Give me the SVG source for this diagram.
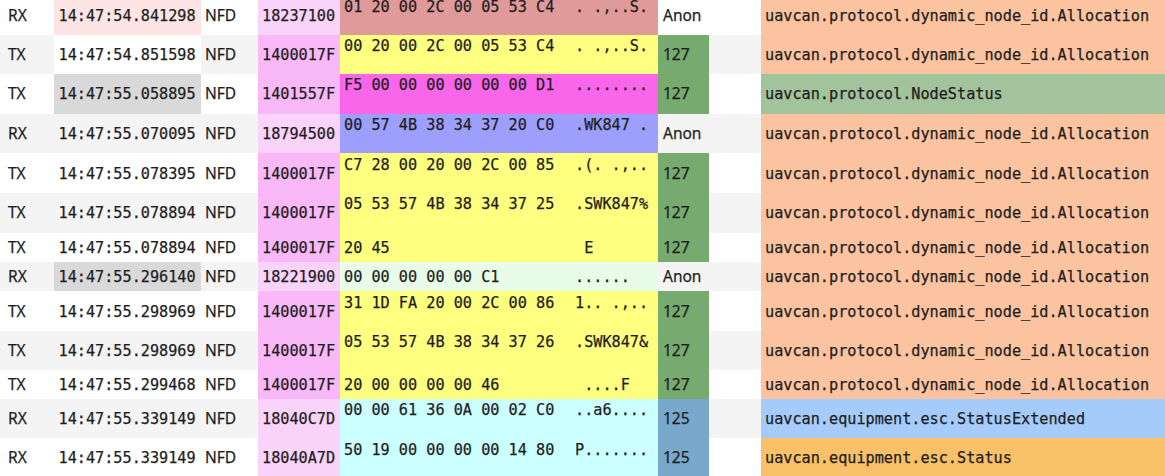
<svg xmlns="http://www.w3.org/2000/svg" width="1165" height="476" viewBox="0 0 1165 476">
<style>
.w{fill:#ffffff}.g{fill:#f4f4f4}
.tsr{fill:#fde5e5}.tsg{fill:#d9d9d9}
.idl{fill:#fad3fa}.idd{fill:#f9b9f9}
.dr{fill:#e19a9a}.dy{fill:#ffff80}.dm{fill:#f966ea}.dl{fill:#9e9efc}.dg{fill:#e8fce8}.dc{fill:#ccffff}
.sg{fill:#77aa6e}.sb{fill:#78a8cc}
.ta{fill:#fbc39f}.tn{fill:#a2c39b}.te{fill:#a4cbf9}.ts{fill:#f8c067}
text{fill:#1e1e1e;stroke:#1e1e1e;stroke-width:0.25px}
.m{font-family:"DejaVu Sans Mono","Liberation Mono",monospace;font-size:15.2px}
.s{font-family:"Noto Sans","Open Sans",sans-serif;font-size:15.5px}
</style>
<rect x="0" y="0" width="1165" height="476" fill="#ffffff"/>
<g id="row1">
<rect class="w" x="0" y="-4" width="1165" height="39"/>
<rect class="tsr" x="54" y="-4" width="147" height="39"/>
<rect class="idl" x="258" y="-4" width="82" height="39"/>
<rect class="dr" x="340" y="-4" width="318" height="39"/>
<rect class="ta" x="761" y="-4" width="404" height="39"/>
<text class="s" x="8" y="21">RX</text>
<text class="m" x="58.5" y="21">14:47:54.841298</text>
<text class="s" x="205" y="21">NFD</text>
<text class="m" x="262" y="21">18237100</text>
<text class="m" x="344" y="12">01 20 00 2C 00 05 53 C4</text>
<text class="m" x="575" y="12" xml:space="preserve">. .,..S.</text>
<text class="s" x="663" y="21">Anon</text>
<text class="m" x="765" y="21">uavcan.protocol.dynamic_node_id.Allocation</text>
</g>
<g id="row2">
<rect class="g" x="0" y="35" width="1165" height="39"/>
<rect class="w" x="54" y="35" width="147" height="39"/>
<rect class="idd" x="258" y="35" width="82" height="39"/>
<rect class="dy" x="340" y="35" width="318" height="39"/>
<rect class="sg" x="658" y="35" width="51" height="39"/>
<rect class="ta" x="761" y="35" width="404" height="39"/>
<text class="s" x="8" y="60">TX</text>
<text class="m" x="58.5" y="60">14:47:54.851598</text>
<text class="s" x="205" y="60">NFD</text>
<text class="m" x="262" y="60">1400017F</text>
<text class="m" x="344" y="51">00 20 00 2C 00 05 53 C4</text>
<text class="m" x="575" y="51" xml:space="preserve">. .,..S.</text>
<text class="s" x="663" y="60">127</text>
<text class="m" x="765" y="60">uavcan.protocol.dynamic_node_id.Allocation</text>
</g>
<g id="row3">
<rect class="w" x="0" y="74" width="1165" height="40"/>
<rect class="tsg" x="54" y="74" width="147" height="40"/>
<rect class="idd" x="258" y="74" width="82" height="40"/>
<rect class="dm" x="340" y="74" width="318" height="40"/>
<rect class="sg" x="658" y="74" width="51" height="40"/>
<rect class="tn" x="761" y="74" width="404" height="40"/>
<text class="s" x="8" y="99">TX</text>
<text class="m" x="58.5" y="99">14:47:55.058895</text>
<text class="s" x="205" y="99">NFD</text>
<text class="m" x="262" y="99">1401557F</text>
<text class="m" x="344" y="90">F5 00 00 00 00 00 00 D1</text>
<text class="m" x="575" y="90" xml:space="preserve">........</text>
<text class="s" x="663" y="99">127</text>
<text class="m" x="765" y="99">uavcan.protocol.NodeStatus</text>
</g>
<g id="row4">
<rect class="g" x="0" y="114" width="1165" height="39"/>
<rect class="idl" x="258" y="114" width="82" height="39"/>
<rect class="dl" x="340" y="114" width="318" height="39"/>
<rect class="ta" x="761" y="114" width="404" height="39"/>
<text class="s" x="8" y="139">RX</text>
<text class="m" x="58.5" y="139">14:47:55.070095</text>
<text class="s" x="205" y="139">NFD</text>
<text class="m" x="262" y="139">18794500</text>
<text class="m" x="344" y="130">00 57 4B 38 34 37 20 C0</text>
<text class="m" x="575" y="130" xml:space="preserve">.WK847 .</text>
<text class="s" x="663" y="139">Anon</text>
<text class="m" x="765" y="139">uavcan.protocol.dynamic_node_id.Allocation</text>
</g>
<g id="row5">
<rect class="w" x="0" y="153" width="1165" height="40"/>
<rect class="idd" x="258" y="153" width="82" height="40"/>
<rect class="dy" x="340" y="153" width="318" height="40"/>
<rect class="sg" x="658" y="153" width="51" height="40"/>
<rect class="ta" x="761" y="153" width="404" height="40"/>
<text class="s" x="8" y="179">TX</text>
<text class="m" x="58.5" y="179">14:47:55.078395</text>
<text class="s" x="205" y="179">NFD</text>
<text class="m" x="262" y="179">1400017F</text>
<text class="m" x="344" y="170">C7 28 00 20 00 2C 00 85</text>
<text class="m" x="575" y="170" xml:space="preserve">.(. .,..</text>
<text class="s" x="663" y="179">127</text>
<text class="m" x="765" y="179">uavcan.protocol.dynamic_node_id.Allocation</text>
</g>
<g id="row6">
<rect class="g" x="0" y="193" width="1165" height="40"/>
<rect class="idd" x="258" y="193" width="82" height="40"/>
<rect class="dy" x="340" y="193" width="318" height="40"/>
<rect class="sg" x="658" y="193" width="51" height="40"/>
<rect class="ta" x="761" y="193" width="404" height="40"/>
<text class="s" x="8" y="218">TX</text>
<text class="m" x="58.5" y="218">14:47:55.078894</text>
<text class="s" x="205" y="218">NFD</text>
<text class="m" x="262" y="218">1400017F</text>
<text class="m" x="344" y="209">05 53 57 4B 38 34 37 25</text>
<text class="m" x="575" y="209" xml:space="preserve">.SWK847%</text>
<text class="s" x="663" y="218">127</text>
<text class="m" x="765" y="218">uavcan.protocol.dynamic_node_id.Allocation</text>
</g>
<g id="row7">
<rect class="w" x="0" y="233" width="1165" height="29"/>
<rect class="idd" x="258" y="233" width="82" height="29"/>
<rect class="dy" x="340" y="233" width="318" height="29"/>
<rect class="sg" x="658" y="233" width="51" height="29"/>
<rect class="ta" x="761" y="233" width="404" height="29"/>
<text class="s" x="8" y="253">TX</text>
<text class="m" x="58.5" y="253">14:47:55.078894</text>
<text class="s" x="205" y="253">NFD</text>
<text class="m" x="262" y="253">1400017F</text>
<text class="m" x="344" y="253">20 45</text>
<text class="m" x="575" y="253" xml:space="preserve"> E</text>
<text class="s" x="663" y="253">127</text>
<text class="m" x="765" y="253">uavcan.protocol.dynamic_node_id.Allocation</text>
</g>
<g id="row8">
<rect class="g" x="0" y="262" width="1165" height="29"/>
<rect class="tsg" x="54" y="262" width="147" height="29"/>
<rect class="idl" x="258" y="262" width="82" height="29"/>
<rect class="dg" x="340" y="262" width="318" height="29"/>
<rect class="ta" x="761" y="262" width="404" height="29"/>
<text class="s" x="8" y="282">RX</text>
<text class="m" x="58.5" y="282">14:47:55.296140</text>
<text class="s" x="205" y="282">NFD</text>
<text class="m" x="262" y="282">18221900</text>
<text class="m" x="344" y="282">00 00 00 00 00 C1</text>
<text class="m" x="575" y="282" xml:space="preserve">......</text>
<text class="s" x="663" y="282">Anon</text>
<text class="m" x="765" y="282">uavcan.protocol.dynamic_node_id.Allocation</text>
</g>
<g id="row9">
<rect class="w" x="0" y="291" width="1165" height="40"/>
<rect class="idd" x="258" y="291" width="82" height="40"/>
<rect class="dy" x="340" y="291" width="318" height="40"/>
<rect class="sg" x="658" y="291" width="51" height="40"/>
<rect class="ta" x="761" y="291" width="404" height="40"/>
<text class="s" x="8" y="317">TX</text>
<text class="m" x="58.5" y="317">14:47:55.298969</text>
<text class="s" x="205" y="317">NFD</text>
<text class="m" x="262" y="317">1400017F</text>
<text class="m" x="344" y="308">31 1D FA 20 00 2C 00 86</text>
<text class="m" x="575" y="308" xml:space="preserve">1.. .,..</text>
<text class="s" x="663" y="317">127</text>
<text class="m" x="765" y="317">uavcan.protocol.dynamic_node_id.Allocation</text>
</g>
<g id="row10">
<rect class="g" x="0" y="331" width="1165" height="39"/>
<rect class="idd" x="258" y="331" width="82" height="39"/>
<rect class="dy" x="340" y="331" width="318" height="39"/>
<rect class="sg" x="658" y="331" width="51" height="39"/>
<rect class="ta" x="761" y="331" width="404" height="39"/>
<text class="s" x="8" y="356">TX</text>
<text class="m" x="58.5" y="356">14:47:55.298969</text>
<text class="s" x="205" y="356">NFD</text>
<text class="m" x="262" y="356">1400017F</text>
<text class="m" x="344" y="347">05 53 57 4B 38 34 37 26</text>
<text class="m" x="575" y="347" xml:space="preserve">.SWK847&amp;</text>
<text class="s" x="663" y="356">127</text>
<text class="m" x="765" y="356">uavcan.protocol.dynamic_node_id.Allocation</text>
</g>
<g id="row11">
<rect class="w" x="0" y="370" width="1165" height="29"/>
<rect class="idd" x="258" y="370" width="82" height="29"/>
<rect class="dy" x="340" y="370" width="318" height="29"/>
<rect class="sg" x="658" y="370" width="51" height="29"/>
<rect class="ta" x="761" y="370" width="404" height="29"/>
<text class="s" x="8" y="390">TX</text>
<text class="m" x="58.5" y="390">14:47:55.299468</text>
<text class="s" x="205" y="390">NFD</text>
<text class="m" x="262" y="390">1400017F</text>
<text class="m" x="344" y="390">20 00 00 00 00 46</text>
<text class="m" x="575" y="390" xml:space="preserve"> ....F</text>
<text class="s" x="663" y="390">127</text>
<text class="m" x="765" y="390">uavcan.protocol.dynamic_node_id.Allocation</text>
</g>
<g id="row12">
<rect class="g" x="0" y="399" width="1165" height="39"/>
<rect class="idl" x="258" y="399" width="82" height="39"/>
<rect class="dc" x="340" y="399" width="318" height="39"/>
<rect class="sb" x="658" y="399" width="51" height="39"/>
<rect class="te" x="761" y="399" width="404" height="39"/>
<text class="s" x="8" y="424">RX</text>
<text class="m" x="58.5" y="424">14:47:55.339149</text>
<text class="s" x="205" y="424">NFD</text>
<text class="m" x="262" y="424">18040C7D</text>
<text class="m" x="344" y="415">00 00 61 36 0A 00 02 C0</text>
<text class="m" x="575" y="415" xml:space="preserve">..a6....</text>
<text class="s" x="663" y="424">125</text>
<text class="m" x="765" y="424">uavcan.equipment.esc.StatusExtended</text>
</g>
<g id="row13">
<rect class="w" x="0" y="438" width="1165" height="38"/>
<rect class="idl" x="258" y="438" width="82" height="38"/>
<rect class="dc" x="340" y="438" width="318" height="38"/>
<rect class="sb" x="658" y="438" width="51" height="38"/>
<rect class="ts" x="761" y="438" width="404" height="38"/>
<text class="s" x="8" y="463">RX</text>
<text class="m" x="58.5" y="463">14:47:55.339149</text>
<text class="s" x="205" y="463">NFD</text>
<text class="m" x="262" y="463">18040A7D</text>
<text class="m" x="344" y="455">50 19 00 00 00 00 14 80</text>
<text class="m" x="575" y="455" xml:space="preserve">P.......</text>
<text class="s" x="663" y="463">125</text>
<text class="m" x="765" y="463">uavcan.equipment.esc.Status</text>
</g>
</svg>
